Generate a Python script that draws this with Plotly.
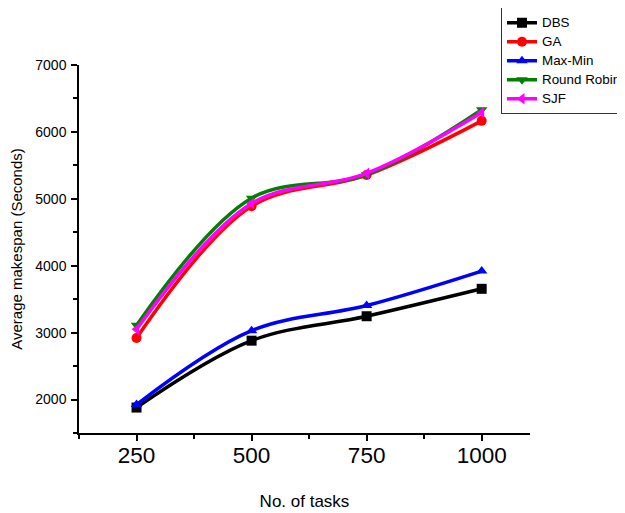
import plotly.graph_objects as go

tasks = [250, 500, 750, 1000]
dbs = [1880, 2880, 3245, 3655]
ga = [2920, 4890, 5355, 6165]
maxmin = [1925, 3030, 3405, 3920]
round_robin = [3110, 5010, 5360, 6330]
sjf = [3050, 4930, 5380, 6290]

series = [
    ("DBS", dbs, "#000000", "square"),
    ("GA", ga, "#FF0000", "circle"),
    ("Max-Min", maxmin, "#0000FF", "triangle-up"),
    ("Round Robin", round_robin, "#008000", "triangle-down"),
    ("SJF", sjf, "#FF00FF", "triangle-left"),
]

fig = go.Figure()
for name, vals, col, sym in series:
    fig.add_trace(go.Scatter(
        x=tasks, y=vals, name='<span style="font-size:13.4px">' + name + '</span>',
        mode="lines+markers",
        line=dict(color=col, width=3.5, shape="spline", smoothing=1.0),
        marker=dict(symbol=sym, size=10, color=col),
    ))

font = "Liberation Sans, Arial, sans-serif"
# page body has an 8px margin, so figure coords are offset by 8px
fig.update_layout(
    width=625, height=513,
    margin=dict(l=71, r=103, t=57, b=88, autoexpand=False),
    paper_bgcolor="white", plot_bgcolor="white",
    font=dict(family=font, color="black"),
    showlegend=True,
    legend=dict(
        x=0.9357, y=1.157, xanchor="left", yanchor="top",
        bordercolor="#333333", borderwidth=1, bgcolor="white",
        font=dict(size=11, family=font), itemwidth=30,
        tracegroupgap=0,
    ),
)
fig.update_xaxes(
    range=[125, 1105], tickvals=tasks, ticktext=[str(t) for t in tasks],
    showline=True, linecolor="black", linewidth=1.5, showgrid=False, zeroline=False,
    ticks="outside", ticklen=6, tickwidth=1.5, tickcolor="black",
    tickfont=dict(size=22.5), mirror=False, ticklabelstandoff=-5,
    minor=dict(tickvals=[125, 375, 625, 875], ticks="outside", ticklen=4, tickwidth=1.5, tickcolor="black"),
    title=dict(text="No. of tasks", font=dict(size=17), standoff=28),
)
fig.update_yaxes(
    range=[1500, 7000], tick0=2000, dtick=1000,
    showline=True, linecolor="black", linewidth=1.5, showgrid=False, zeroline=False,
    ticks="outside", ticklen=6, tickwidth=1.5, tickcolor="black",
    tickfont=dict(size=14), ticklabelstandoff=2,
    minor=dict(dtick=500, tick0=1500, ticks="outside", ticklen=4, tickwidth=1.5, tickcolor="black"),
    title=dict(text="Average makespan (Seconds)", font=dict(size=15), standoff=10),
)
fig.write_html("out.html")
